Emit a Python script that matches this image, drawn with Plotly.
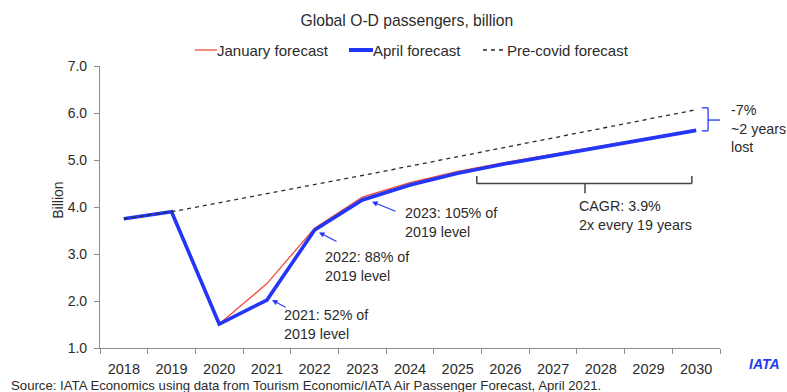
import plotly.graph_objects as go

# Global O-D passengers (billion)
years = list(range(2018, 2031))
april_forecast = [3.75, 3.90, 1.51, 2.02, 3.51, 4.15, 4.47, 4.72, 4.92, 5.10, 5.28, 5.46, 5.63]
january_forecast = [3.75, 3.90, 1.51, 2.37, 3.55, 4.21, 4.52, 4.76, 4.95, 5.12, 5.29, 5.47, 5.64]
precovid_forecast = [3.75, 3.90, 4.09, 4.28, 4.48, 4.67, 4.87, 5.07, 5.27, 5.47, 5.67, 5.87, 6.07]

legend_labels = ["January forecast", "April forecast", "Pre-covid forecast"]
y_ticks = [1.0, 2.0, 3.0, 4.0, 5.0, 6.0, 7.0]

RED = "#ee4b3a"
BLUE = "#2336f7"
DARK = "#2b2b2b"
AXIS = "#8c8c8c"
FONT = "Liberation Sans, Arial, sans-serif"

fig = go.Figure()
fig.add_trace(go.Scatter(x=years, y=january_forecast, mode="lines", name=legend_labels[0],
                         line=dict(color=RED, width=1.3), showlegend=False))
fig.add_trace(go.Scatter(x=years, y=april_forecast, mode="lines", name=legend_labels[1],
                         line=dict(color=BLUE, width=3.6), showlegend=False))
fig.add_trace(go.Scatter(x=years, y=precovid_forecast, mode="lines", name=legend_labels[2],
                         line=dict(color=DARK, width=1.3, dash="4px,4px"), showlegend=False))

annotations = []
shapes = []

# Legend row drawn above the plot area
legend_items = [
    (0.153, 0.1887, dict(color=RED, width=1.3), legend_labels[0]),
    (0.4016, 0.4403, dict(color=BLUE, width=4), legend_labels[1]),
    (0.6177, 0.6565, dict(color=DARK, width=1.3, dash="4px,4px"), legend_labels[2]),
]
for x0, x1, ln, label in legend_items:
    shapes.append(dict(type="line", xref="paper", yref="paper", x0=x0, x1=x1,
                       y0=1.0567, y1=1.0567, line=ln))
    annotations.append(dict(text=label, xref="paper", yref="paper", x=x1 - 0.003, y=1.0567,
                            xanchor="left", yanchor="middle", showarrow=False,
                            font=dict(size=15, color=DARK, family=FONT)))

# Y axis title
annotations.append(dict(text="Billion", xref="paper", yref="paper", x=-0.068, y=0.525,
                        textangle=-90, showarrow=False, xanchor="center", yanchor="middle",
                        font=dict(size=14, color=DARK, family=FONT)))

# Callouts with arrows pointing at the April forecast
callouts = [
    (2021.107, 2.02, 15, 8, "2021: 52% of<br>2019 level", 0.2935, 0.0833),
    (2022.092, 3.46, 19, 10, "2022: 88% of<br>2019 level", 0.3597, 0.289),
    (2023.203, 4.11, 25, 10, "2023: 105% of<br>2019 level", 0.4887, 0.445),
]
for hx, hy, ax, ay, txt, tx, ty in callouts:
    annotations.append(dict(x=hx, y=hy, xref="x", yref="y", ax=ax, ay=ay, text="",
                            showarrow=True, arrowhead=2, arrowsize=1, arrowwidth=1.1,
                            arrowcolor=BLUE, standoff=0, startstandoff=0))
    annotations.append(dict(text=txt, xref="paper", yref="paper", x=tx, y=ty, xanchor="left",
                            yanchor="middle", align="left", showarrow=False,
                            font=dict(size=14.3, color=DARK, family=FONT)))

# CAGR bracket
bx0, bx1, bxm = 2025.40, 2029.91, 2027.67
b_top, b_mid, b_tip = 4.66, 4.50, 4.29
bracket_line = dict(color="#444444", width=1.5)
for seg in [(bx0, b_top, bx0, b_mid), (bx0, b_mid, bx1, b_mid), (bx1, b_mid, bx1, b_top),
            (bxm, b_mid, bxm, b_tip)]:
    shapes.append(dict(type="line", xref="x", yref="y", x0=seg[0], y0=seg[1],
                       x1=seg[2], y1=seg[3], line=bracket_line))
annotations.append(dict(text="CAGR: 3.9%<br>2x every 19 years", xref="paper", yref="paper",
                        x=0.769, y=0.4716, xanchor="left", yanchor="middle", align="left",
                        showarrow=False, font=dict(size=14.3, color=DARK, family=FONT)))

# Gap bracket between pre-covid and April forecasts in 2030
gx_hook, gx_v, gx_tip = 2030.12, 2030.25, 2030.5
g_top, g_mid, g_bot = 6.11, 5.85, 5.62
gap_line = dict(color=BLUE, width=1.3)
for seg in [(gx_hook, g_top, gx_v, g_top), (gx_v, g_top, gx_v, g_bot), (gx_v, g_bot, gx_hook, g_bot),
            (gx_v, g_mid, gx_tip, g_mid)]:
    shapes.append(dict(type="line", xref="x", yref="y", x0=seg[0], y0=seg[1],
                       x1=seg[2], y1=seg[3], line=gap_line))
annotations.append(dict(text="-7%<br>~2 years<br>lost", xref="paper", yref="paper",
                        x=1.014, y=0.7777, xanchor="left", yanchor="middle", align="left",
                        showarrow=False, font=dict(size=14.3, color=DARK, family=FONT)))

# Source note and wordmark
annotations.append(dict(text="Source: IATA Economics using data from Tourism Economic/IATA Air Passenger Forecast, April 2021.",
                        xref="paper", yref="paper", x=-0.1468, y=-0.132, xanchor="left",
                        yanchor="middle", showarrow=False,
                        font=dict(size=13.2, color=DARK, family=FONT)))
annotations.append(dict(text="<b><i>IATA</i></b>", xref="paper", yref="paper", x=1.043, y=-0.058,
                        xanchor="left", yanchor="middle", showarrow=False,
                        font=dict(size=14, color="#1f3cf0", family=FONT)))

# Category boundaries for the x tick marks
boundaries = [y - 0.5 for y in years] + [years[-1] + 0.5]

fig.update_layout(
    width=787, height=392,
    margin=dict(l=100, r=67, t=66, b=44),
    paper_bgcolor="white", plot_bgcolor="white",
    title=dict(text="Global O-D passengers, billion", x=0.517, xanchor="center",
               y=0.948, yanchor="middle", font=dict(size=15.7, color=DARK, family=FONT)),
    xaxis=dict(range=[years[0] - 0.5, years[-1] + 0.5], tickmode="array", tickvals=years,
               ticktext=[str(y) for y in years], ticks="", showline=True, linecolor=AXIS,
               linewidth=1.2, showgrid=False, zeroline=False, ticklabelstandoff=7,
               minor=dict(tickmode="array", tickvals=boundaries, ticks="outside", ticklen=5,
                          tickcolor=AXIS, showgrid=False),
               tickfont=dict(size=14.5, color=DARK, family=FONT)),
    yaxis=dict(range=[1, 7], tickvals=y_ticks, tickformat=".1f", ticks="outside", ticklen=5,
               tickcolor=AXIS, showline=True, linecolor=AXIS, linewidth=1.2, showgrid=False,
               zeroline=False, ticklabelstandoff=4,
               tickfont=dict(size=14, color=DARK, family=FONT)),
    annotations=annotations,
    shapes=shapes,
    showlegend=False,
)

fig.write_html("out.html")
